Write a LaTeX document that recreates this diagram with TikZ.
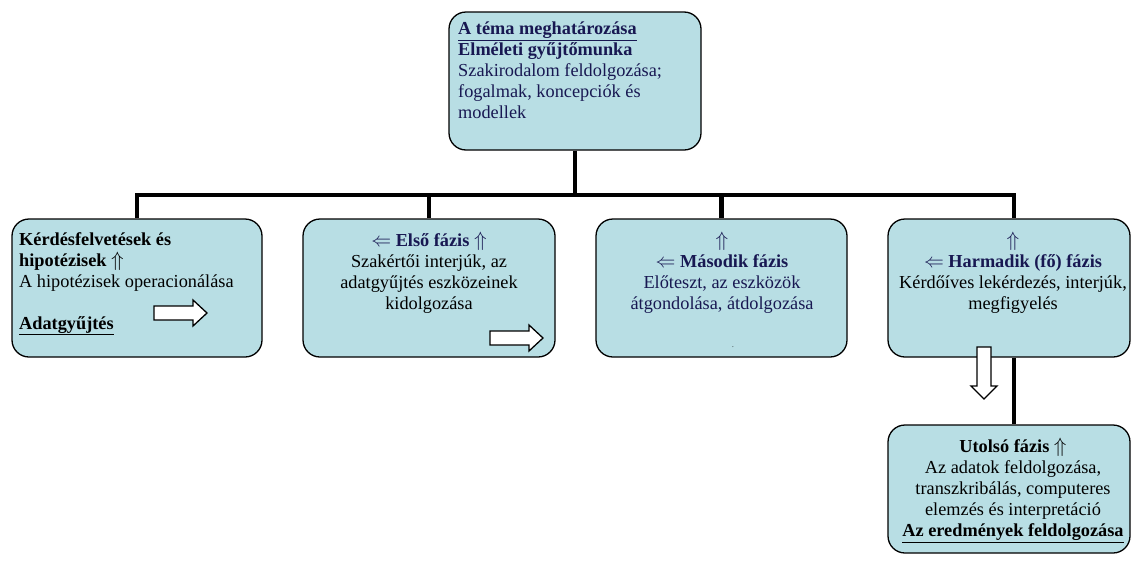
\documentclass[tikz,border=0pt]{standalone}
\usepackage{fontspec}
\setmainfont{Liberation Serif}
\usetikzlibrary{positioning}
\definecolor{boxfill}{RGB}{184,222,228}
\definecolor{navy}{RGB}{24,24,82}
\newcommand{\felnyil}{\scalebox{1.2}{$\Uparrow$}}
\newcommand{\balnyil}{\scalebox{1.15}{$\Leftarrow$}}

\tikzset{
  phasebox/.style={draw=black, line width=1.3pt, fill=boxfill, rounded corners=17pt, inner sep=0pt},
  phasetext/.style={anchor=north, inner sep=0pt, align=center, font=\fontsize{18.3}{21}\selectfont, execute at begin node=\strut},
  bus/.style={line width=4.5pt},
  blockarrow/.style={draw=black, line width=1.3pt, fill=white, line join=miter}
}

\begin{document}
\begin{tikzpicture}[x=1pt, y=-1pt]
  \useasboundingbox (0,0) rectangle (1131,560);
  % boxes
  \node[phasebox, minimum width=252, minimum height=138] (tema) at (575,81) {};
  \node[phasebox, minimum width=250, minimum height=138] (kerdes) at (137,288) {};
  \node[phasebox, minimum width=252, minimum height=138] (elso) at (429,288) {};
  \node[phasebox, minimum width=251, minimum height=138] (masodik) at (721.5,288) {};
  \node[phasebox, minimum width=242, minimum height=138] (harmadik) at (1009,288) {};
  \node[phasebox, minimum width=242, minimum height=128] (utolso) at (1009,489) {};
  % connectors
  \coordinate (hub) at (575,195);
  \draw[bus] (tema.south) -- (hub);
  \draw[bus] (kerdes.north) |- (hub) -| ([xshift=5pt]harmadik.north);
  \draw[bus] (elso.north) -- (elso.north |- hub);
  \draw[bus] (masodik.north) -- (masodik.north |- hub);
  \draw[bus] ([xshift=5pt]harmadik.south) -- ([xshift=5pt]utolso.north);
  % texts
  \node[phasetext, anchor=north west, align=left, text=navy] (tematxt) at (458,22) {\underline{\textbf{A téma meghatározása}}\\ \textbf{Elméleti gyűjtőmunka}\\ Szakirodalom feldolgozása;\\ fogalmak, koncepciók és\\ modellek};
  \node[phasetext, anchor=north west, align=left] (kerdestxt) at (19,232) {\textbf{Kérdésfelvetések és}\\ \textbf{hipotézisek} \felnyil\\ A hipotézisek operacionálása\\[21pt] \underline{\textbf{Adatgyűjtés}}};
  \node[phasetext] (elsotxt) at (429,232) {\textcolor{navy}{\balnyil{} \textbf{Első fázis} \felnyil}\\ Szakértői interjúk, az\\ adatgyűjtés eszközeinek\\ kidolgozása};
  \node[phasetext, text=navy] (masodiktxt) at (722,232) {\felnyil\\ \balnyil{} \textbf{Második fázis}\\ Előteszt, az eszközök\\ átgondolása, átdolgozása};
  \node[phasetext] (harmadiktxt) at (1013,232) {\textcolor{navy}{\felnyil}\\ \textcolor{navy}{\balnyil{} \textbf{Harmadik (fő) fázis}}\\ Kérdőíves lekérdezés, interjúk,\\ megfigyelés};
  \node[phasetext] (utolsotxt) at (1013,438) {\textbf{Utolsó fázis} \felnyil\\ Az adatok feldolgozása,\\ transzkribálás, computeres\\ elemzés és interpretáció\\ \underline{\textbf{Az eredmények feldolgozása}}};
  \node[font=\scriptsize, inner sep=0pt] (pont) at (733,347) {.};
  % block arrows
  \foreach \x/\y in {154/313, 490/338} {\draw[blockarrow] (\x,\y) ++(0,-7) -- ++(39,0) -- ++(0,-6) -- ++(14,13) -- ++(-14,13) -- ++(0,-6) -- ++(-39,0) -- cycle;}
  \draw[blockarrow] (977,347) -- ++(14,0) -- ++(0,39) -- ++(6,0) -- ++(-13,13) -- ++(-13,-13) -- ++(6,0) -- cycle;
\end{tikzpicture}
\end{document}
